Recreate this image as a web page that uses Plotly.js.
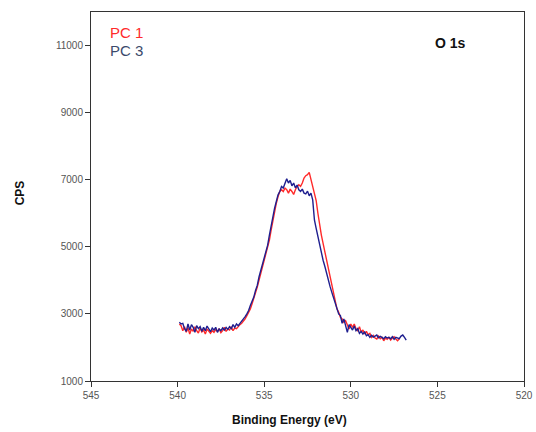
<!DOCTYPE html>
<html>
<head>
<meta charset="utf-8">
<script src="https://cdn.plot.ly/plotly-3.0.1.min.js"></script>
<style>html,body{margin:0;padding:0;background:#fff;}#chart{width:536px;height:432px;}</style>
</head>
<body>
<div id="chart"></div>
<script>
// Binding energy (eV), 0.1 eV steps
const energy = [
539.9,539.8,539.7,539.6,539.5,539.4,539.3,539.2,539.1,539.0,
538.9,538.8,538.7,538.6,538.5,538.4,538.3,538.2,538.1,538.0,
537.9,537.8,537.7,537.6,537.5,537.4,537.3,537.2,537.1,537.0,
536.9,536.8,536.7,536.6,536.5,536.4,536.3,536.2,536.1,536.0,
535.9,535.8,535.7,535.6,535.5,535.4,535.3,535.2,535.1,535.0,
534.9,534.8,534.7,534.6,534.5,534.4,534.3,534.2,534.1,534.0,
533.9,533.8,533.7,533.6,533.5,533.4,533.3,533.2,533.1,533.0,
532.9,532.8,532.7,532.6,532.5,532.4,532.3,532.2,532.1,532.0,
531.9,531.8,531.7,531.6,531.5,531.4,531.3,531.2,531.1,531.0,
530.9,530.8,530.7,530.6,530.5,530.4,530.3,530.2,530.1,530.0,
529.9,529.8,529.7,529.6,529.5,529.4,529.3,529.2,529.1,529.0,
528.9,528.8,528.7,528.6,528.5,528.4,528.3,528.2,528.1,528.0,
527.9,527.8,527.7,527.6,527.5,527.4,527.3,527.2,527.1,527.0,
526.9,526.8
];
const pc1 = [
2700,2650,2500,2620,2450,2580,2400,2550,2480,2620,
2500,2430,2580,2460,2520,2400,2550,2480,2420,2500,
2450,2530,2480,2560,2440,2500,2600,2480,2550,2520,
2620,2500,2580,2560,2640,2680,2720,2780,2850,2950,
3050,3150,3300,3450,3600,3800,4000,4200,4400,4550,
4750,4950,5200,5500,5800,6050,6300,6500,6650,6700,
6650,6750,6700,6600,6720,6650,6560,6700,6800,6850,
6800,6900,7050,7120,7150,7220,7000,6820,6650,6380,
6000,5600,5350,5100,4850,4620,4350,4100,3850,3600,
3400,3150,3050,2900,2850,2750,2800,2680,2550,2700,
2600,2700,2560,2500,2620,2450,2520,2400,2480,2380,
2420,2300,2360,2280,2250,2340,2260,2300,2200,2280,
2240,2300,2220,2280,2320,2250,2200,2260
];
const pc3 = [
2750,2700,2720,2560,2480,2700,2520,2680,2600,2450,
2650,2560,2620,2480,2600,2500,2640,2540,2470,2580,
2520,2600,2450,2550,2500,2580,2520,2600,2540,2620,
2560,2680,2600,2700,2650,2720,2780,2850,2920,3000,
3100,3250,3380,3500,3700,3850,4100,4300,4450,4650,
4850,5050,5350,5650,5950,6150,6350,6550,6650,6800,
6750,6880,7030,6900,6980,6820,6900,6760,6840,6700,
6650,6720,6600,6580,6660,6520,6600,6400,5800,5550,
5300,5000,4800,4600,4420,4200,4000,3820,3650,3480,
3300,3100,3000,2950,2720,2850,2600,2450,2680,2600,
2520,2640,2500,2560,2420,2480,2400,2460,2350,2380,
2300,2360,2310,2340,2370,2290,2330,2300,2260,2320,
2280,2300,2260,2320,2240,2300,2280,2260,2340,2370,
2300,2220
];
const seriesNames = ["PC 1", "PC 3"];
const yTicks = [1000, 3000, 5000, 7000, 9000, 11000];
const xTicks = [545, 540, 535, 530, 525, 520];

const red = "#ff2a2a", navy = "#1f1f8f";
const traces = [
  {x: energy.slice(0, pc1.length), y: pc1, name: seriesNames[0], mode: "lines",
   line: {color: red, width: 1.4}},
  {x: energy.slice(0, pc3.length), y: pc3, name: seriesNames[1], mode: "lines",
   line: {color: navy, width: 1.4}}
];
const font = "Liberation Sans, Arial, sans-serif";
const layout = {
  width: 536, height: 432,
  margin: {l: 91, r: 12, t: 12, b: 51},
  paper_bgcolor: "#fff", plot_bgcolor: "#fff",
  showlegend: false,
  font: {family: font, size: 10, color: "#555"},
  xaxis: {range: [545, 520], tickvals: xTicks, ticktext: xTicks.map(String),
    showgrid: false, zeroline: false, showline: true, mirror: true,
    linecolor: "#333", linewidth: 1, ticks: "outside", ticklen: 5, tickcolor: "#333",
    tickfont: {family: font, size: 10, color: "#555"}},
  yaxis: {range: [1000, 12000], tickvals: yTicks, ticktext: yTicks.map(String),
    showgrid: false, zeroline: false, showline: true, mirror: true,
    linecolor: "#333", linewidth: 1, ticks: "outside", ticklen: 5, tickcolor: "#333",
    tickfont: {family: font, size: 10, color: "#555"}},
  annotations: [
    {text: seriesNames[0], xref: "paper", yref: "paper", x: 0.04, y: 0.945,
     xanchor: "left", yanchor: "middle", showarrow: false,
     font: {family: font, size: 15, color: red}},
    {text: seriesNames[1], xref: "paper", yref: "paper", x: 0.04, y: 0.897,
     xanchor: "left", yanchor: "middle", showarrow: false,
     font: {family: font, size: 15, color: "#3b4a6b"}},
    {text: "<b>O 1s</b>", xref: "paper", yref: "paper", x: 0.83, y: 0.917,
     xanchor: "center", yanchor: "middle", showarrow: false,
     font: {family: font, size: 14, color: "#111"}},
    {text: "<b>CPS</b>", xref: "paper", yref: "paper", x: -0.165, y: 0.51,
     xanchor: "center", yanchor: "middle", textangle: -90, showarrow: false,
     font: {family: font, size: 12, color: "#111"}},
    {text: "<b>Binding Energy (eV)</b>", xref: "paper", yref: "paper", x: 0.458, y: -0.105,
     xanchor: "center", yanchor: "middle", showarrow: false,
     font: {family: font, size: 12, color: "#111"}}
  ]
};
Plotly.newPlot("chart", traces, layout, {staticPlot: true, displayModeBar: false});
</script>
</body>
</html>
